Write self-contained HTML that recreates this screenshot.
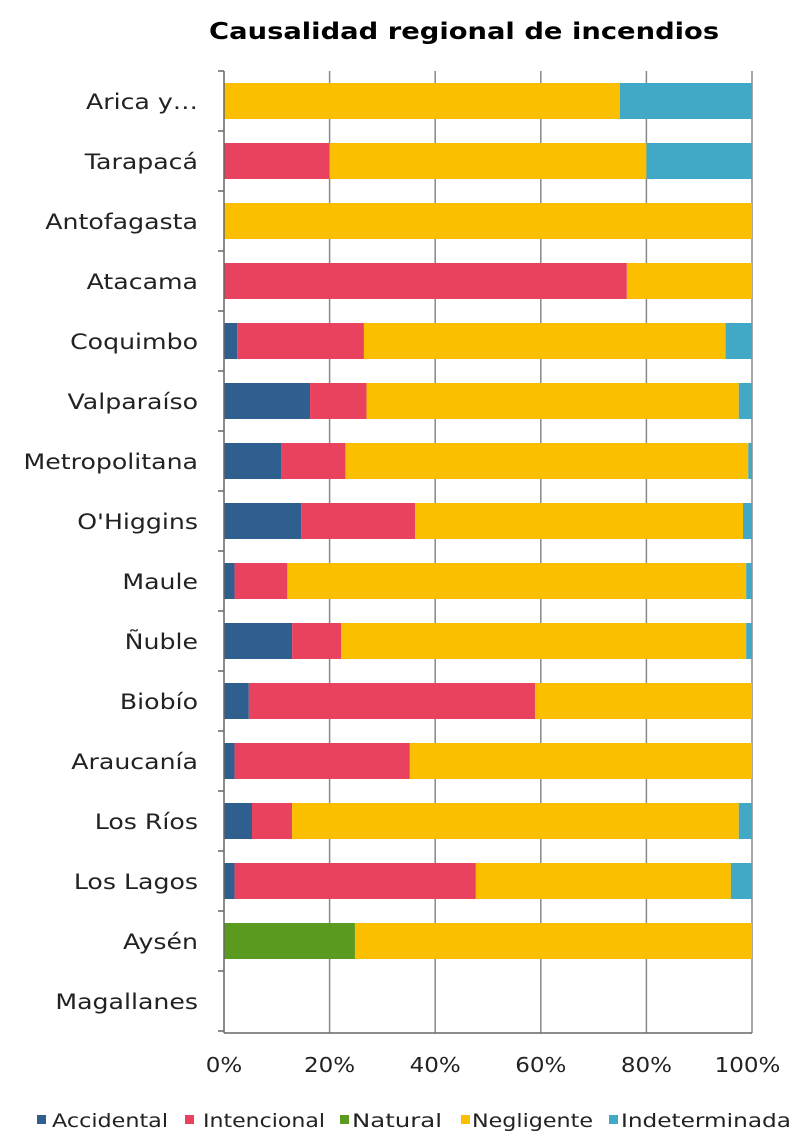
<!DOCTYPE html>
<html><head><meta charset="utf-8"><style>
html,body{margin:0;padding:0;background:#fff;}
svg{display:block;font-family:"DejaVu Sans","Liberation Sans",sans-serif;}
</style></head><body>
<svg width="800" height="1147" viewBox="0 0 800 1147" xmlns="http://www.w3.org/2000/svg">
<g transform="scale(1.19,1)"><text x="390" y="39" text-anchor="middle" font-size="23" font-weight="bold" fill="#000">Causalidad regional de incendios</text></g>
<g stroke="#888" stroke-width="1.5">
<line x1="329.6" y1="71" x2="329.6" y2="1033"/>
<line x1="435.2" y1="71" x2="435.2" y2="1033"/>
<line x1="540.8" y1="71" x2="540.8" y2="1033"/>
<line x1="646.4" y1="71" x2="646.4" y2="1033"/>
<line x1="752" y1="71" x2="752" y2="1033"/>
</g>
<g id="bars"></g>
<g stroke="#666" stroke-width="1.5">
<line x1="224" y1="71" x2="224" y2="1033"/>
<line x1="224" y1="1033" x2="752" y2="1033"/>
</g>
<g id="ticks" stroke="#666" stroke-width="1.5"></g>
<g transform="scale(1.2,1)"><g id="labels" font-size="21" fill="#222" text-anchor="end"></g></g>
<g transform="scale(1.15,1)" font-size="20" fill="#222" text-anchor="middle">
<text x="194.8" y="1072">0%</text><text x="286.6" y="1072">20%</text><text x="378.4" y="1072">40%</text><text x="470.3" y="1072">60%</text><text x="562.1" y="1072">80%</text><text x="650" y="1072">100%</text>
</g>
<rect x="37" y="1115" width="9" height="9" fill="#2e5f8f"/>
<rect x="185" y="1115" width="9" height="9" fill="#e8425f"/>
<rect x="340" y="1115" width="9" height="9" fill="#5a9a1e"/>
<rect x="461" y="1115" width="9" height="9" fill="#fbbf00"/>
<rect x="609" y="1115" width="9" height="9" fill="#41a9c5"/>
<g font-size="19" fill="#222">
<text x="52" y="1127" textLength="116" lengthAdjust="spacingAndGlyphs">Accidental</text>
<text x="203" y="1127" textLength="122" lengthAdjust="spacingAndGlyphs">Intencional</text>
<text x="352" y="1127" textLength="90" lengthAdjust="spacingAndGlyphs">Natural</text>
<text x="472" y="1127" textLength="121" lengthAdjust="spacingAndGlyphs">Negligente</text>
<text x="621" y="1127" textLength="170" lengthAdjust="spacingAndGlyphs">Indeterminada</text>
</g>
<script>
var C=["#2e5f8f","#e8425f","#5a9a1e","#fbbf00","#41a9c5"];
var D=[["Arica y…",[0,0,0,75,100]],["Tarapacá",[0,20,20,80,100]],["Antofagasta",[0,0,0,100,100]],["Atacama",[0,76.3,76.3,100,100]],["Coquimbo",[2.5,26.5,26.5,95,100]],["Valparaíso",[16.3,27,27,97.5,100]],["Metropolitana",[10.8,23,23,99.3,100]],["O'Higgins",[14.6,36.2,36.2,98.3,100]],["Maule",[2,12,12,98.9,100]],["Ñuble",[12.9,22.2,22.2,98.9,100]],["Biobío",[4.7,58.9,58.9,100,100]],["Araucanía",[2,35.2,35.2,100,100]],["Los Ríos",[5.3,12.9,12.9,97.5,100]],["Los Lagos",[2,47.7,47.7,96,100]],["Aysén",[0,0,24.8,100,100]],["Magallanes",null]];
var ns="http://www.w3.org/2000/svg",b=document.getElementById("bars"),l=document.getElementById("labels"),t=document.getElementById("ticks");
function el(p,n,a){var e=document.createElementNS(ns,n);for(var k in a)e.setAttribute(k,a[k]);p.appendChild(e);return e;}
for(var i=0;i<=16;i++){el(t,"line",{x1:218,x2:224,y1:71+60*i,y2:71+60*i});}
D.forEach(function(d,i){var cy=101+60*i;
var tx=el(l,"text",{x:165,y:cy+8});tx.textContent=d[0];
if(!d[1])return;var prev=0;
d[1].forEach(function(v,j){if(v>prev){el(b,"rect",{x:224+prev*5.28,y:cy-18,width:(v-prev)*5.28,height:36,fill:C[j]});}prev=v;});});
</script>
</svg>
</body></html>
